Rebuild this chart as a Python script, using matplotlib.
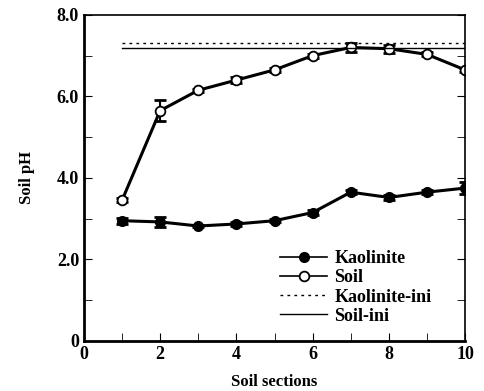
import matplotlib.pyplot as plt
from matplotlib.ticker import MultipleLocator

plt.rcParams["font.family"] = ["Liberation Serif", "DejaVu Serif"]
plt.rcParams["font.weight"] = "bold"

sections = [1, 2, 3, 4, 5, 6, 7, 8, 9, 10]
kaolinite = [2.95, 2.92, 2.82, 2.87, 2.95, 3.15, 3.65, 3.52, 3.65, 3.75]
kaolinite_err = [0.07, 0.12, 0.03, 0.04, 0.04, 0.06, 0.05, 0.05, 0.05, 0.15]
soil = [3.45, 5.65, 6.15, 6.4, 6.65, 7.0, 7.2, 7.17, 7.03, 6.65]
soil_err = [0.05, 0.25, 0.04, 0.08, 0.04, 0.05, 0.1, 0.1, 0.05, 0.05]
kaolinite_ini = 7.3
soil_ini = 7.18

fig = plt.figure(figsize=(4.85, 3.91), dpi=100)
ax = fig.add_axes([0.173, 0.128, 0.786, 0.834])

# error bars first, lines/markers on top
ax.errorbar(sections, kaolinite, yerr=kaolinite_err, fmt="none", ecolor="black",
            capsize=4, capthick=2, elinewidth=1.5)
ax.errorbar(sections, soil, yerr=soil_err, fmt="none", ecolor="black",
            capsize=4, capthick=2, elinewidth=1.5)
ax.plot(sections, kaolinite, color="black", lw=2.2, marker="o", ms=7,
        mfc="black", label="Kaolinite")
ax.plot(sections, soil, color="black", lw=2.2, marker="o", ms=7,
        mfc="white", mew=1.3, label="Soil")
ax.plot([sections[0], sections[-1]], [kaolinite_ini] * 2, color="black",
        ls=(0, (2, 3)), lw=1.0, label="Kaolinite-ini")
ax.plot([sections[0], sections[-1]], [soil_ini] * 2, color="black",
        lw=1.0, label="Soil-ini")

ax.set_xlim(0, 10)
ax.set_ylim(0, 8)
ax.xaxis.set_major_locator(MultipleLocator(2))
ax.xaxis.set_minor_locator(MultipleLocator(1))
ax.set_yticks([0, 2, 4, 6, 8])
ax.set_yticklabels(["0", "2.0", "4.0", "6.0", "8.0"])
ax.yaxis.set_minor_locator(MultipleLocator(1))
ax.tick_params(which="both", direction="in", right=True, labelsize=13, length=6)
for s in ax.spines.values():
    s.set_linewidth(1.2)
ax.spines["bottom"].set_linewidth(2)
ax.spines["left"].set_linewidth(2)

ax.set_xlabel("Soil sections", fontsize=12, fontweight="bold", labelpad=8)
ax.set_ylabel("Soil pH", fontsize=12, fontweight="bold", labelpad=16)

handles, labels = ax.get_legend_handles_labels()
leg = ax.legend(handles, labels, loc="lower right", bbox_to_anchor=(0.955, 0.0),
                frameon=False, fontsize=13, handlelength=2.6,
                labelspacing=0.12, handletextpad=0.4)
for h in leg.legend_handles[:2]:
    h.set_linewidth(1.2)

fig.savefig("out.png", dpi=100)
